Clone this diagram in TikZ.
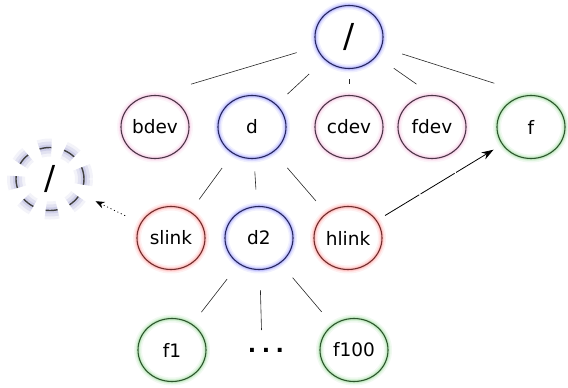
\documentclass[tikz,border=0pt]{standalone}
\usepackage{fontspec}
\setmainfont{DejaVu Sans}
\usetikzlibrary{shapes.geometric,arrows.meta}
\definecolor{navy}{HTML}{26265C}
\definecolor{plum}{HTML}{4A3646}
\definecolor{forest}{HTML}{2E552E}
\definecolor{brick}{HTML}{6E2E2E}
\definecolor{gdir}{HTML}{6A6AFF}
\definecolor{gdev}{HTML}{F0A0D0}
\definecolor{gfile}{HTML}{70CC70}
\definecolor{glink}{HTML}{FF7070}
\definecolor{gghost}{HTML}{6A6AB8}
\tikzset{
  glow/.style={preaction={draw=#1,line width=8pt,draw opacity=0.10},
               preaction={draw=#1,line width=5pt,draw opacity=0.16},
               preaction={draw=#1,line width=3pt,draw opacity=0.22}},
  bigglow/.style={preaction={draw=#1,line width=18pt,draw opacity=0.08},
               preaction={draw=#1,line width=12pt,draw opacity=0.12},
               preaction={draw=#1,line width=6pt,draw opacity=0.16}},
  fsnode/.style={ellipse, minimum width=68pt, minimum height=63pt, inner sep=0pt,
                 font=\fontsize{18.5}{20}\selectfont, line width=1.1pt},
  dirnode/.style={fsnode, draw=navy, glow=gdir},
  devnode/.style={fsnode, draw=plum, glow=gdev},
  filenode/.style={fsnode, draw=forest, glow=gfile},
  linknode/.style={fsnode, draw=brick, glow=glink},
  ghostnode/.style={fsnode, draw=black!75, line width=1.4pt, dash pattern=on 12pt off 13pt, bigglow=gghost},
  slash/.style={font=\fontsize{33}{36}\selectfont},
  tie/.style={line width=0.6pt, draw=black!85},
}
\begin{document}
\begin{tikzpicture}[x=1pt,y=-1pt]
\useasboundingbox (0,0) rectangle (568,388);
% nodes
\node[dirnode, slash] (root) at (349,37) {/};
\node[devnode] (bdev) at (155,127) {bdev};
\node[dirnode] (d) at (252,127) {d};
\node[devnode] (cdev) at (349,127) {cdev};
\node[devnode] (fdev) at (432,127) {fdev};
\node[filenode] (f) at (531,127) {f};
\node[ghostnode, slash] (ghost) at (50,179) {/};
\node[linknode] (slink) at (171,238) {slink};
\node[dirnode] (d2) at (259,238) {d2};
\node[linknode] (hlink) at (348,238) {hlink};
\node[filenode] (f1) at (172,350) {f1};
\node[filenode] (f100) at (354,350) {f100};
\node[anchor=base, inner sep=0pt, font=\fontsize{22}{24}\selectfont\bfseries] (dots) at (266,352.5) {.\hspace{5.5pt}.\hspace{5.5pt}.};
\coordinate (dotsup) at (261.5,330);
% connectors
\draw[tie, shorten <=20.3pt, shorten >=37.6pt] (root) -- (bdev.north);
\draw[tie, shorten <=21pt, shorten >=15pt] (root) -- (d);
\draw[tie, shorten <=10pt, shorten >=10.5pt] (root) -- (cdev);
\draw[tie, shorten <=21pt, shorten >=18.9pt] (root) -- (fdev.north);
\draw[tie, shorten <=21.6pt, shorten >=38.5pt] (root) -- (f.north);
\draw[tie, shorten <=18pt, shorten >=15pt] (d) -- (slink);
\draw[tie, shorten <=12.5pt, shorten >=16.5pt] (d) -- (d2);
\draw[tie, shorten <=21pt, shorten >=16pt] (d) -- (hlink);
\draw[tie, shorten <=19pt, shorten >=15pt] (d2) -- (f1);
\draw[tie, shorten <=20pt] (d2) -- (dotsup);
\draw[tie, shorten <=19pt, shorten >=17pt] (d2) -- (f100);
\draw[line width=0.8pt, dash pattern=on 40pt off 1.5pt, -{Stealth[length=12pt,width=8pt]}, shorten <=9.5pt, shorten >=10pt] (hlink) -- (f);
\draw[line width=0.8pt, dash pattern=on 1pt off 2.8pt, -{Stealth[length=9pt,width=7pt]}, shorten <=17pt, shorten >=16.5pt] (slink) -- (ghost);
\end{tikzpicture}
\end{document}
